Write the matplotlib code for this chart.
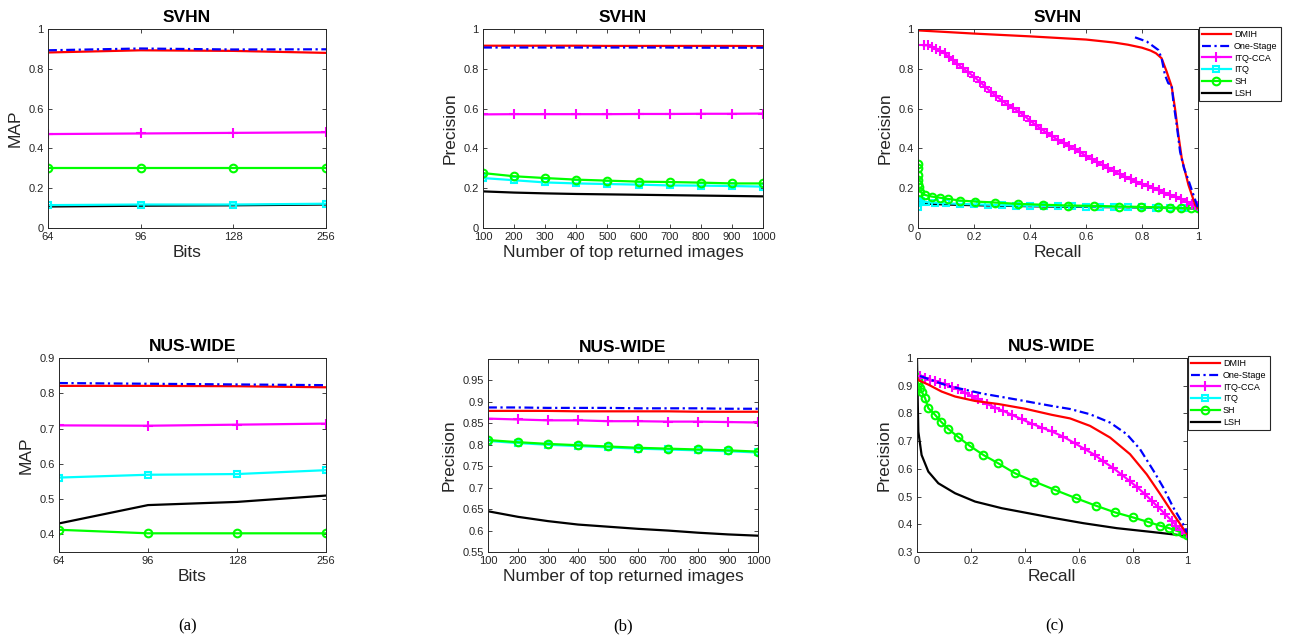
import matplotlib
matplotlib.use("Agg")
import matplotlib.pyplot as plt

plt.rcParams["font.family"] = ["Liberation Sans", "DejaVu Sans"]

methods = ["DMIH", "One-Stage", "ITQ-CCA", "ITQ", "SH", "LSH"]

# ---- MAP vs bits ----
bits = ["64", "96", "128", "256"]
svhn_map = {
    "DMIH": [0.882, 0.893, 0.890, 0.880],
    "One-Stage": [0.893, 0.902, 0.897, 0.898],
    "ITQ-CCA": [0.472, 0.475, 0.478, 0.481],
    "ITQ": [0.115, 0.118, 0.118, 0.122],
    "SH": [0.300, 0.300, 0.300, 0.300],
    "LSH": [0.108, 0.112, 0.114, 0.118],
}
nus_map = {
    "DMIH": [0.821, 0.821, 0.820, 0.817],
    "One-Stage": [0.829, 0.827, 0.825, 0.823],
    "ITQ-CCA": [0.709, 0.708, 0.711, 0.714],
    "ITQ": [0.561, 0.569, 0.571, 0.582],
    "SH": [0.413, 0.403, 0.403, 0.403],
    "LSH": [0.431, 0.483, 0.492, 0.510],
}

# ---- precision vs number of returned images ----
top_n = [100, 200, 300, 400, 500, 600, 700, 800, 900, 1000]
svhn_topn = {
    "DMIH": [0.916, 0.916, 0.916, 0.916, 0.915, 0.915, 0.915, 0.915, 0.915, 0.914],
    "One-Stage": [0.907, 0.907, 0.907, 0.907, 0.907, 0.907, 0.907, 0.906, 0.906, 0.906],
    "ITQ-CCA": [0.571, 0.572, 0.572, 0.572, 0.572, 0.573, 0.573, 0.574, 0.574, 0.575],
    "ITQ": [0.251, 0.240, 0.229, 0.224, 0.221, 0.218, 0.214, 0.213, 0.211, 0.208],
    "SH": [0.276, 0.260, 0.251, 0.243, 0.238, 0.233, 0.231, 0.228, 0.224, 0.224],
    "LSH": [0.184, 0.178, 0.174, 0.171, 0.169, 0.167, 0.165, 0.163, 0.161, 0.159],
}
nus_topn = {
    "DMIH": [0.879, 0.879, 0.879, 0.878, 0.878, 0.878, 0.878, 0.877, 0.877, 0.877],
    "One-Stage": [0.887, 0.887, 0.886, 0.886, 0.886, 0.885, 0.885, 0.885, 0.884, 0.884],
    "ITQ-CCA": [0.861, 0.859, 0.857, 0.857, 0.855, 0.855, 0.854, 0.854, 0.853, 0.852],
    "ITQ": [0.809, 0.804, 0.800, 0.797, 0.794, 0.791, 0.789, 0.787, 0.785, 0.782],
    "SH": [0.811, 0.806, 0.802, 0.799, 0.796, 0.793, 0.791, 0.789, 0.787, 0.784],
    "LSH": [0.645, 0.632, 0.622, 0.614, 0.609, 0.604, 0.600, 0.595, 0.591, 0.588],
}

# ---- precision-recall curves, SVHN ----
svhn_pr = {
    "DMIH": ([0, 0.1, 0.2, 0.3, 0.4, 0.5, 0.6, 0.7, 0.75, 0.8, 0.83, 0.85, 0.87, 0.888,
              0.906, 0.918, 0.93, 0.942, 0.954, 0.966, 0.978, 0.99, 1.0],
             [0.993, 0.985, 0.977, 0.970, 0.963, 0.955, 0.947, 0.932, 0.921, 0.906, 0.892,
              0.878, 0.853, 0.786, 0.71, 0.60, 0.467, 0.35, 0.283, 0.216, 0.166, 0.116, 0.10]),
    "One-Stage": ([0.775, 0.817, 0.858, 0.87, 0.882, 0.894, 0.906, 0.912, 0.924, 0.936,
                   0.95, 0.966, 0.978, 0.99, 1.0],
                  [0.958, 0.937, 0.895, 0.853, 0.769, 0.727, 0.72, 0.635, 0.518, 0.383,
                   0.30, 0.24, 0.19, 0.141, 0.10]),
    "ITQ-CCA": ([0.020, 0.035, 0.050, 0.065, 0.080, 0.095, 0.110, 0.125, 0.140, 0.160,
                 0.180, 0.200, 0.220, 0.240, 0.260, 0.280, 0.300, 0.320, 0.340, 0.360,
                 0.380, 0.400, 0.420, 0.440, 0.460, 0.480, 0.500, 0.520, 0.540, 0.560,
                 0.580, 0.600, 0.620, 0.640, 0.660, 0.680, 0.700, 0.720, 0.740, 0.760,
                 0.780, 0.800, 0.820, 0.840, 0.860, 0.880, 0.900, 0.920, 0.940, 0.960,
                 0.980, 0.990, 1.000],
                [0.918, 0.918, 0.912, 0.902, 0.890, 0.877, 0.860, 0.842, 0.825, 0.803,
                 0.782, 0.760, 0.736, 0.710, 0.685, 0.662, 0.640, 0.620, 0.603, 0.585,
                 0.563, 0.540, 0.518, 0.498, 0.478, 0.460, 0.443, 0.428, 0.412, 0.396,
                 0.380, 0.362, 0.346, 0.330, 0.315, 0.300, 0.285, 0.270, 0.256, 0.244,
                 0.233, 0.222, 0.211, 0.200, 0.189, 0.177, 0.166, 0.155, 0.145, 0.133,
                 0.120, 0.114, 0.110]),
    "ITQ": ([0.0, 0.0, 0.002, 0.01, 0.03, 0.06, 0.1, 0.15, 0.2, 0.25, 0.3, 0.35, 0.4,
             0.45, 0.5, 0.55, 0.6, 0.65, 0.7, 0.75, 0.8, 0.85, 0.9, 0.95, 1.0],
            [0.105, 0.125, 0.14, 0.135, 0.13, 0.127, 0.124, 0.121, 0.119, 0.117, 0.115,
             0.113, 0.112, 0.111, 0.110, 0.109, 0.108, 0.107, 0.106, 0.105, 0.104, 0.103,
             0.102, 0.101, 0.10]),
    "SH": ([0.0, 0.0, 0.0, 0.0, 0.0, 0.002, 0.007, 0.025, 0.049, 0.079, 0.108, 0.15,
            0.204, 0.275, 0.357, 0.447, 0.537, 0.63, 0.717, 0.795, 0.857, 0.90, 0.94,
            0.975, 1.0],
           [0.323, 0.30, 0.265, 0.24, 0.22, 0.205, 0.183, 0.166, 0.158, 0.152, 0.146,
            0.138, 0.133, 0.128, 0.121, 0.117, 0.113, 0.111, 0.108, 0.106, 0.104, 0.102,
            0.10, 0.10, 0.10]),
    "LSH": ([0.0, 0.005, 0.013, 0.03, 0.053, 0.1, 0.155, 0.25, 0.333, 0.507, 0.745, 1.0],
            [0.157, 0.14, 0.127, 0.123, 0.121, 0.118, 0.116, 0.113, 0.111, 0.107, 0.104,
             0.098]),
}

# ---- precision-recall curves, NUS-WIDE ----
nus_pr = {
    "DMIH": ([0.0, 0.005, 0.042, 0.091, 0.141, 0.215, 0.301, 0.40, 0.499, 0.567, 0.641,
              0.715, 0.789, 0.851, 0.9, 0.949, 1.0],
             [0.93, 0.92, 0.904, 0.879, 0.861, 0.845, 0.834, 0.817, 0.795, 0.782, 0.755,
              0.713, 0.653, 0.58, 0.51, 0.437, 0.365]),
    "One-Stage": ([0.011, 0.116, 0.24, 0.363, 0.499, 0.567, 0.641, 0.715, 0.777, 0.826,
                   0.876, 0.912, 0.949, 0.986, 1.0],
                  [0.935, 0.899, 0.872, 0.851, 0.827, 0.816, 0.797, 0.767, 0.725, 0.671,
                   0.593, 0.533, 0.461, 0.40, 0.37]),
    "ITQ-CCA": ([0.011, 0.03, 0.048, 0.067, 0.085, 0.104, 0.128, 0.153, 0.178, 0.202,
                 0.227, 0.258, 0.289, 0.32, 0.351, 0.388, 0.425, 0.462, 0.499, 0.542,
                 0.585, 0.622, 0.659, 0.69, 0.727, 0.758, 0.789, 0.816, 0.844, 0.869,
                 0.894, 0.919, 0.943, 0.961, 0.98, 1.0],
                [0.935, 0.927, 0.922, 0.917, 0.911, 0.905, 0.895, 0.887, 0.875, 0.863,
                 0.851, 0.835, 0.821, 0.809, 0.795, 0.779, 0.763, 0.749, 0.735, 0.716,
                 0.692, 0.671, 0.65, 0.627, 0.603, 0.579, 0.555, 0.533, 0.509, 0.485,
                 0.461, 0.437, 0.413, 0.395, 0.38, 0.368]),
    "ITQ": ([], []),
    "SH": ([0.0, 0.002, 0.005, 0.01, 0.017, 0.03, 0.042, 0.067, 0.089, 0.116, 0.151,
            0.194, 0.246, 0.301, 0.363, 0.435, 0.511, 0.589, 0.663, 0.733, 0.799, 0.854,
            0.9, 0.934, 0.961, 0.986, 1.0],
           [0.93, 0.92, 0.905, 0.89, 0.879, 0.855, 0.819, 0.795, 0.77, 0.744, 0.716,
            0.684, 0.65, 0.62, 0.584, 0.554, 0.524, 0.494, 0.467, 0.443, 0.425, 0.409,
            0.395, 0.386, 0.377, 0.368, 0.362]),
    "LSH": ([0.0, 0.003, 0.005, 0.017, 0.042, 0.079, 0.141, 0.215, 0.314, 0.412, 0.499,
             0.616, 0.74, 0.863, 1.0],
            [1.0, 0.83, 0.734, 0.65, 0.59, 0.548, 0.512, 0.482, 0.458, 0.44, 0.424, 0.404,
             0.386, 0.373, 0.358]),
}

styles = {
    "DMIH": dict(color="#ff0000", ls="-", marker=None),
    "One-Stage": dict(color="#0000ff", ls=(0, (4, 1.6, 1, 1.6)), marker=None),
    "ITQ-CCA": dict(color="#ff00ff", ls="-", marker="+", ms=7.5, mew=1.5),
    "ITQ": dict(color="#00ffff", ls="-", marker="s", ms=4.5, mew=1.5, mfc="none"),
    "SH": dict(color="#00ff00", ls="-", marker="o", ms=5.5, mew=1.5, mfc="none"),
    "LSH": dict(color="#000000", ls="-", marker=None),
}
draw_order = ["LSH", "ITQ", "SH", "ITQ-CCA", "DMIH", "One-Stage"]

W, H = 1289, 643
fig = plt.figure(figsize=(W / 100, H / 100), dpi=100)


def add_ax(x0, y0, x1, y1):
    return fig.add_axes([x0 / W, 1 - y1 / H, (x1 - x0) / W, (y1 - y0) / H])


def style_ax(ax, title, xlabel, ylabel):
    ax.set_title(title, fontsize=12.5, fontweight="bold", pad=5)
    ax.set_xlabel(xlabel, fontsize=12.5, color="#262626", labelpad=2)
    ax.set_ylabel(ylabel, fontsize=12.5, color="#262626", labelpad=4)
    ax.tick_params(direction="in", top=True, right=True, length=3, width=0.6,
                   labelsize=8, colors="#262626", pad=3)
    for s in ax.spines.values():
        s.set_color("#262626")
        s.set_linewidth(0.7)


# (a) MAP vs bits
for (box, data, title, ylim, yticks) in [
    ((48, 29, 326, 228), svhn_map, "SVHN", (0, 1), [0, 0.2, 0.4, 0.6, 0.8, 1]),
    ((59, 358, 326, 552), nus_map, "NUS-WIDE", (0.35, 0.9), [0.4, 0.5, 0.6, 0.7, 0.8, 0.9]),
]:
    ax = add_ax(*box)
    for m in draw_order:
        ax.plot(range(len(bits)), data[m], lw=1.6, **styles[m])
    ax.set_xlim(0, len(bits) - 1)
    ax.set_xticks(range(len(bits)))
    ax.set_xticklabels(bits)
    ax.set_ylim(*ylim)
    ax.set_yticks(yticks)
    ax.set_yticklabels([f"{t:g}" for t in yticks])
    style_ax(ax, title, "Bits", "MAP")

# (b) precision vs top N
for (box, data, title, ylim, yticks) in [
    ((483, 29, 763, 228), svhn_topn, "SVHN", (0, 1), [0, 0.2, 0.4, 0.6, 0.8, 1]),
    ((488, 359, 758, 552), nus_topn, "NUS-WIDE", (0.55, 1.0),
     [0.55, 0.6, 0.65, 0.7, 0.75, 0.8, 0.85, 0.9, 0.95]),
]:
    ax = add_ax(*box)
    for m in draw_order:
        ax.plot(top_n, data[m], lw=1.6, **styles[m])
    ax.set_xlim(100, 1000)
    ax.set_xticks(top_n)
    ax.set_ylim(*ylim)
    ax.set_yticks(yticks)
    ax.set_yticklabels([f"{t:g}" for t in yticks])
    style_ax(ax, title, "Number of top returned images", "Precision")

# (c) precision-recall
for (box, data, title, ylim, yticks) in [
    ((918, 29, 1198, 228), svhn_pr, "SVHN", (0, 1), [0, 0.2, 0.4, 0.6, 0.8, 1]),
    ((917, 358, 1187, 552), nus_pr, "NUS-WIDE", (0.3, 1.0),
     [0.3, 0.4, 0.5, 0.6, 0.7, 0.8, 0.9, 1]),
]:
    ax = add_ax(*box)
    hs = {}
    for m in draw_order:
        r, p = data[m]
        h, = ax.plot(r, p, lw=1.6, label=m, **styles[m])
        hs[m] = h
    ax.set_xlim(0, 1)
    ax.set_xticks([0, 0.2, 0.4, 0.6, 0.8, 1])
    ax.set_xticklabels(["0", "0.2", "0.4", "0.6", "0.8", "1"])
    ax.set_ylim(*ylim)
    ax.set_yticks(yticks)
    ax.set_yticklabels([f"{t:g}" for t in yticks])
    style_ax(ax, title, "Recall", "Precision")
    leg = ax.legend([hs[m] for m in methods], methods, loc="upper left",
                    bbox_to_anchor=(1.003, 1.01), borderaxespad=0, fontsize=6.5,
                    handlelength=3.2, handletextpad=0.35, labelspacing=0.3,
                    borderpad=0.35, fancybox=False, framealpha=1)
    leg.get_frame().set_edgecolor("#262626")
    leg.get_frame().set_linewidth(0.8)

for x, lab in [(188, "(a)"), (623, "(b)"), (1055, "(c)")]:
    fig.text(x / W, 1 - 626 / H, lab, ha="center", va="center", fontsize=12,
             family="Liberation Serif")

fig.savefig("out.png", dpi=100)
